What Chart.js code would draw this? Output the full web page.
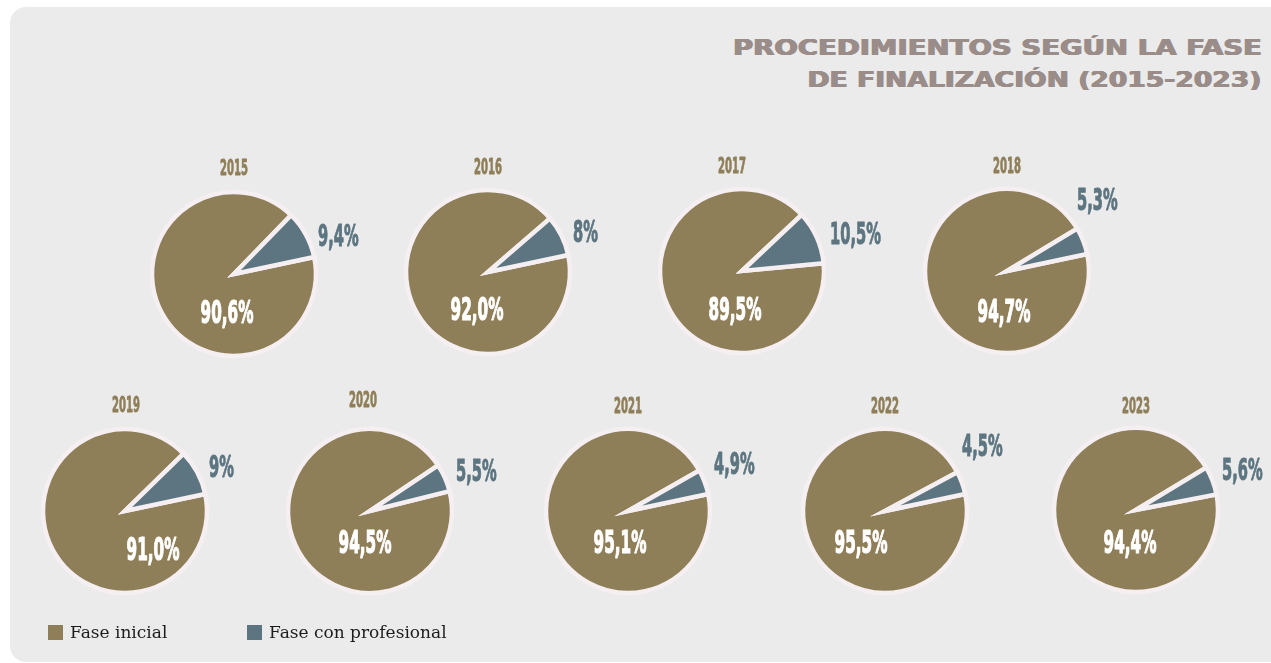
<!DOCTYPE html>
<html>
<head>
<meta charset="utf-8">
<script src="https://cdn.jsdelivr.net/npm/chart.js@4.4.1/dist/chart.umd.min.js"></script>
<style>
  html, body { margin: 0; padding: 0; background: #fff; }
  body { width: 1271px; height: 663px; overflow: hidden; position: relative; }
  #panel { position: absolute; left: 10px; top: 7px; width: 1300px; height: 655px; background: #ebebeb; border-radius: 16px; }
  #title { position: absolute; right: 9px; top: 32px; text-align: right; color: #9a8d89;
           font: bold 21px "DejaVu Sans", sans-serif; line-height: 32px; white-space: nowrap;
           text-shadow: 0.6px 0 0 #9a8d89, -0.6px 0 0 #9a8d89, 0 0.4px 0 #9a8d89; }
  #title span { display: inline-block; transform-origin: right center; }
  .pie { position: absolute; width: 300px; height: 260px; }
  .item { position: absolute; top: 621px; white-space: nowrap; font: 17px "DejaVu Serif", serif; color: #1c1c1c; line-height: 22px; }
  .sw { display: inline-block; width: 15px; height: 15px; margin-right: 7px; vertical-align: -2px; }
</style>
</head>
<body>
<div id="panel"></div>
<div id="title"><span id="t1">PROCEDIMIENTOS SEGÚN LA FASE</span><br><span id="t2">DE FINALIZACIÓN (2015-2023)</span></div>
<div id="pies"></div>
<div id="legend"></div>

<script>
// data
const years = ['2015', '2016', '2017', '2018', '2019', '2020', '2021', '2022', '2023'];
const categories = ['Fase inicial', 'Fase con profesional'];
const faseInicial = [90.6, 92.0, 89.5, 94.7, 91.0, 94.5, 95.1, 95.5, 94.4];
const faseProfesional = [9.4, 8, 10.5, 5.3, 9, 5.5, 4.9, 4.5, 5.6];

const colors = ['#8f7f59', '#5c7580'];
const ringColor = '#f5eff1';

// where each pie sits on the page + small nudges for its texts
const layout = [
  { cx: 234, cy: 274, rot: 78,   year: [0, -104],  inner: [-7, 41],  outer: [84, -36] },
  { cx: 488, cy: 272, rot: 78,   year: [0, -103],  inner: [-11, 40], outer: [85, -38] },
  { cx: 742, cy: 271, rot: 84.5, year: [-10, -103], inner: [-7, 41], outer: [88, -35] },
  { cx: 1007, cy: 271, rot: 78,  year: [0, -103],  inner: [-3, 43],  outer: [70, -69] },
  { cx: 125, cy: 511, rot: 78,   year: [1, -104],  inner: [28, 41],  outer: [84, -42] },
  { cx: 370, cy: 511, rot: 76,   year: [-7, -109], inner: [-5, 34],  outer: [86, -38] },
  { cx: 628, cy: 511, rot: 78,   year: [0, -103],  inner: [-8, 34],  outer: [86, -45] },
  { cx: 885, cy: 511, rot: 78,   year: [0, -103],  inner: [-24, 34], outer: [77, -63] },
  { cx: 1136, cy: 510, rot: 79,  year: [0, -102],  inner: [-6, 35],  outer: [86, -38] },
];

const CONDENSED = '"DejaVu Sans Condensed", "DejaVu Sans", sans-serif';

function fmtInicial(v) { return v.toFixed(1).replace('.', ',') + '%'; }
function fmtProf(v) { return (Number.isInteger(v) ? String(v) : v.toFixed(1).replace('.', ',')) + '%'; }

// squeeze text horizontally so the digits get the narrow poster look
function condText(ctx, text, x, y, size, digitW, color, align, weight) {
  ctx.save();
  ctx.font = 'bold ' + size + 'px ' + CONDENSED;
  const sx = digitW / ctx.measureText('0').width;
  ctx.translate(x, y);
  ctx.scale(sx, 1);
  ctx.fillStyle = color;
  ctx.strokeStyle = color;
  ctx.lineWidth = weight;
  ctx.lineJoin = 'round';
  ctx.textAlign = align;
  ctx.textBaseline = 'middle';
  ctx.fillText(text, 0, 0);
  if (weight > 0) ctx.strokeText(text, 0, 0);
  ctx.restore();
}

const pieLabels = {
  id: 'pieLabels',
  afterDatasetsDraw(chart, args, opts) {
    const ctx = chart.ctx;
    const arcs = chart.getDatasetMeta(0).data;
    const vals = chart.data.datasets[0].data;
    const a = arcs[0].getProps(['x', 'y'], true);
    const L = opts.layout;
    condText(ctx, opts.year, a.x + L.year[0], a.y + L.year[1], 21, 7.0, colors[0], 'center', 0.8);
    condText(ctx, fmtInicial(vals[0]), a.x + L.inner[0], a.y + L.inner[1], 32, 10.6, '#ffffff', 'center', 1.2);
    condText(ctx, fmtProf(vals[1]), a.x + L.outer[0], a.y + L.outer[1], 31, 10.2, colors[1], 'left', 1.0);
  }
};

const holder = document.getElementById('pies');
years.forEach((yr, i) => {
  const L = layout[i];
  const box = document.createElement('div');
  box.className = 'pie';
  box.style.left = (L.cx - 150) + 'px';
  box.style.top = (L.cy - 130) + 'px';
  const cv = document.createElement('canvas');
  cv.width = 300;
  cv.height = 260;
  box.appendChild(cv);
  holder.appendChild(box);

  new Chart(cv, {
    type: 'pie',
    data: {
      labels: categories,
      datasets: [{
        data: [faseInicial[i], faseProfesional[i]],
        backgroundColor: colors,
        borderColor: ringColor,
        borderWidth: 4.5,
        borderJoinStyle: 'miter',
        hoverOffset: 0
      }]
    },
    options: {
      responsive: false,
      animation: false,
      events: [],
      rotation: L.rot,
      radius: 82,
      plugins: {
        legend: { display: false },
        tooltip: { enabled: false },
        pieLabels: { year: yr, layout: L }
      }
    },
    plugins: [pieLabels]
  });
});

// legend
const legend = document.getElementById('legend');
const legendX = [48, 247];
categories.forEach((c, i) => {
  const it = document.createElement('div');
  it.className = 'item';
  it.style.left = legendX[i] + 'px';
  it.innerHTML = '<span class="sw" style="background:' + colors[i] + '"></span>' + c;
  legend.appendChild(it);
});

// stretch the title lines to the wide display face look
const t1 = document.getElementById('t1');
const t2 = document.getElementById('t2');
t1.style.transform = 'scaleX(' + (529 / t1.getBoundingClientRect().width) + ')';
t2.style.transform = 'scaleX(' + (454 / t2.getBoundingClientRect().width) + ')';
</script>
</body>
</html>
